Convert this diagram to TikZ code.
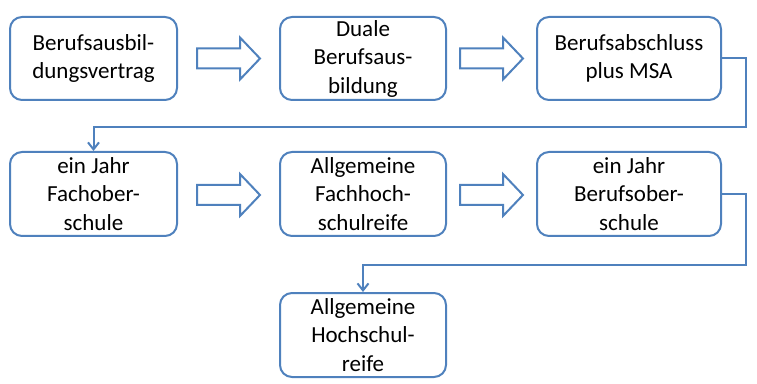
\documentclass[tikz,border=0pt]{standalone}
\usepackage{fontspec}
\setmainfont{Carlito}
\usetikzlibrary{arrows.meta}
\definecolor{boxblue}{RGB}{79,129,189}
\tikzset{
  stepbox/.style={draw=boxblue, line width=2pt, rounded corners=12pt, fill=white,
    align=center, inner sep=0pt, font=\fontsize{23}{28.5}\selectfont},
  conn/.style={draw=boxblue, line width=2pt, -{Straight Barb[length=7pt,width=11pt]}},
  pics/barrow/.style={code={
    \draw[boxblue, line width=2pt, fill=white, line join=miter]
      (0,-10) -- (43,-10) -- (43,-21) -- (63,0) -- (43,21) -- (43,10) -- (0,10) -- cycle;
  }}
}
\begin{document}
\begin{tikzpicture}[x=1pt,y=1pt]
\useasboundingbox (0,0) rectangle (757,383);
% row 1
\node[stepbox, minimum width=167pt, minimum height=83pt] (b1) at (93.5,324.5) {Berufsausbil-\\dungsvertrag};
\node[stepbox, minimum width=166pt, minimum height=83pt] (b2) at (363,324.5) {Duale\\Berufsaus-\\bildung};
\node[stepbox, minimum width=184pt, minimum height=83pt] (b3) at (629,324.5) {Berufsabschluss\\plus MSA};
% row 2
\node[stepbox, minimum width=167pt, minimum height=84pt] (b4) at (93.5,189) {ein Jahr\\Fachober-\\schule};
\node[stepbox, minimum width=166pt, minimum height=84pt] (b5) at (363,189) {Allgemeine\\Fachhoch-\\schulreife};
\node[stepbox, minimum width=184pt, minimum height=84pt] (b6) at (629,189) {ein Jahr\\Berufsober-\\schule};
% row 3
\node[stepbox, minimum width=166pt, minimum height=84pt] (b7) at (363,48) {Allgemeine\\Hochschul-\\reife};
% block arrows
\pic at (197,324.5) {barrow};
\pic at (460,324.5) {barrow};
\pic at (197,188) {barrow};
\pic at (460,188) {barrow};
% connectors
\coordinate (c1) at (746,256);
\coordinate (c2) at (746,118);
\draw[conn] (b3.east) -| (c1) -| (b4.north);
\draw[conn] (b6.east) -| (c2) -| (b7.north);
\end{tikzpicture}
\end{document}
